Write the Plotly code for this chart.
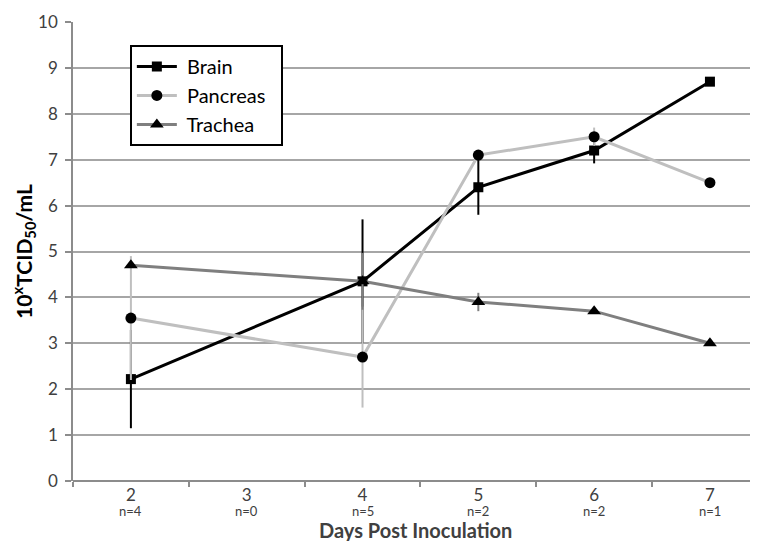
import plotly.graph_objects as go

days = ["2", "3", "4", "5", "6", "7"]
n_counts = ["n=4", "n=0", "n=5", "n=2", "n=2", "n=1"]

brain = [2.22, None, 4.35, 6.4, 7.2, 8.7]
brain_err = [1.07, 0, 1.35, 0.6, 0.28, 0]
pancreas = [3.55, None, 2.7, 7.1, 7.5, 6.5]
pancreas_err = [1.35, 0, 1.1, 0, 0.2, 0]
trachea = [4.7, None, 4.35, 3.9, 3.7, 3.0]
trachea_err = [0.0, 0, 0.62, 0.2, 0, 0]

xpos = list(range(len(days)))

series = [
    ("Brain", brain, brain_err, "#000000", "square", 10),
    ("Pancreas", pancreas, pancreas_err, "#bfbfbf", "circle", 11),
    ("Trachea", trachea, trachea_err, "#7f7f7f", "triangle-up", 12),
]

FONT = "Lato, Open Sans, sans-serif"

fig = go.Figure()
for name, vals, err, col, sym, sz in series:
    fig.add_trace(go.Scatter(
        x=xpos, y=vals, name="\u00a0" + name + "\u00a0\u00a0", mode="lines+markers",
        connectgaps=True,
        line=dict(color=col, width=3),
        marker=dict(symbol=sym, size=sz, color="#000000"),
        error_y=dict(type="data", array=err, visible=True, color=col,
                     thickness=2, width=0),
    ))

# n= labels under each day tick
for xp, n in zip(xpos, n_counts):
    fig.add_annotation(x=xp, y=-0.066, xref="x", yref="paper", text=n,
                       showarrow=False, yanchor="middle",
                       font=dict(family=FONT, size=13, color="#404040"))
fig.add_annotation(x=0.5, y=-0.107, xref="paper", yref="paper",
                   text="<b>Days Post Inoculation</b>", showarrow=False,
                   xanchor="center", yanchor="middle",
                   font=dict(family=FONT, size=20, color="#404040"))

fig.update_layout(
    width=758, height=541,
    margin=dict(l=65, r=8, t=14, b=68),
    paper_bgcolor="white", plot_bgcolor="white",
    font=dict(family=FONT, color="#404040", size=14),
    legend=dict(
        x=0.083, y=0.95, xanchor="left", yanchor="top",
        bgcolor="white", bordercolor="#000000", borderwidth=2,
        font=dict(family=FONT, size=20, color="#000000"),
        itemwidth=40, tracegroupgap=0,
    ),
    showlegend=True,
)

fig.update_xaxes(
    range=[-0.5, 5.415], automargin=False,
    tickmode="array", tickvals=xpos, ticktext=days,
    ticks="", showgrid=False, zeroline=False,
    showline=False, ticklabelstandoff=2,
    tickfont=dict(family=FONT, size=17, color="#404040"),
    minor=dict(tick0=0.5, dtick=1, ticks="outside", ticklen=5,
               tickcolor="#8c8c8c", tickwidth=1.5, showgrid=False),
)

fig.update_yaxes(
    range=[0, 10], dtick=1, automargin=False,
    showgrid=True, gridcolor="#a6a6a6", gridwidth=1.5,
    zeroline=True, zerolinecolor="#8c8c8c", zerolinewidth=1.5,
    showline=True, linecolor="#8c8c8c", linewidth=1.5,
    ticks="outside", ticklen=6, tickcolor="#8c8c8c", tickwidth=1.5,
    ticklabelstandoff=4,
    tickfont=dict(family=FONT, size=17, color="#404040"),
    title=dict(text="<b>10<sup>x</sup>TCID<sub>50</sub>/mL</b>",
               font=dict(family=FONT, size=21, color="#000000"), standoff=8),
)

fig.write_html("out.html")
